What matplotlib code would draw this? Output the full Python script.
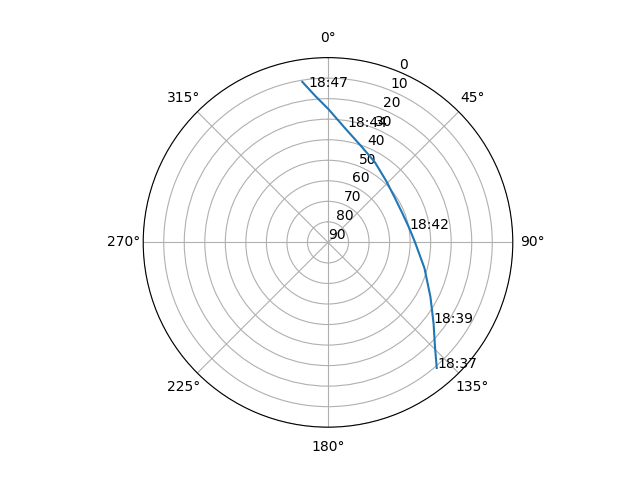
import numpy as np
import matplotlib
matplotlib.use("Agg")
import matplotlib.pyplot as plt

# Track of the pass: azimuth (deg), elevation (deg)
track_az = [139.1, 134.3, 127.5, 118.0, 104.9, 90.0, 80.7, 68.6, 56.6, 44.0, 30.4, 19.4, 9.4, 0.1, 354.9, 350.9]
track_el = [9.1, 17.2, 25.2, 33.5, 41.4, 47.6, 49.7, 51.1, 50.9, 48.9, 44.8, 40.6, 34.5, 25.0, 18.2, 10.8]

# Time labels
label_times = ["18:37", "18:39", "18:42", "18:44", "18:47"]
label_az = [138.8, 127.5, 80.7, 9.6, 353.0]
label_el = [9.0, 25.2, 49.7, 33.2, 13.6]

fig = plt.figure(figsize=(6.4, 4.8), dpi=100)
ax = fig.add_subplot(111, projection="polar")
ax.set_theta_zero_location("N")
ax.set_theta_direction(-1)

az = np.unwrap(np.radians(track_az))
ax.plot(az, track_el)
for t, a, e in zip(label_times, label_az, label_el):
    ax.text(np.radians(a), e, t)

ax.set_ylim(90, 0)
ax.set_yticks(range(0, 91, 10))
ax.grid(True)

fig.savefig("out.png", dpi=100)
